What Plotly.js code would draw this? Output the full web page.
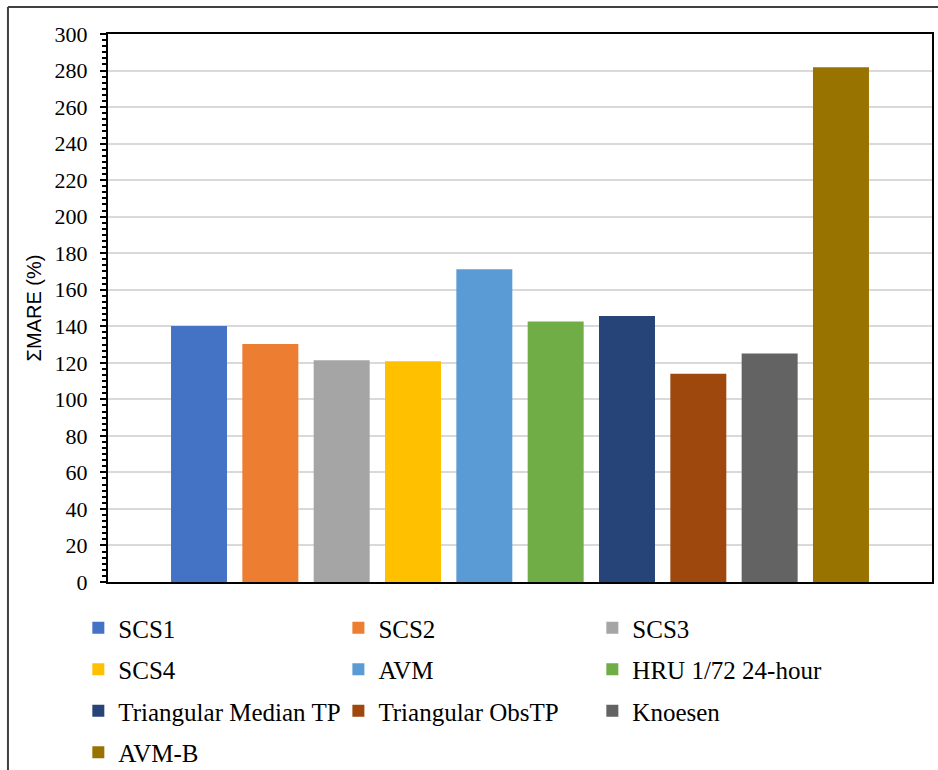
<!DOCTYPE html>
<html>
<head>
<meta charset="utf-8">
<script src="https://cdn.plot.ly/plotly-3.0.1.min.js"></script>
<style>html,body{margin:0;padding:0;background:#fff;}#chart{width:938px;height:770px;}</style>
</head>
<body>
<div id="chart"></div>
<script>
// Data
const categories = ["SCS1", "SCS2", "SCS3", "SCS4", "AVM", "HRU 1/72 24-hour",
  "Triangular Median TP", "Triangular ObsTP", "Knoesen", "AVM-B"];
const sumMARE = [140.1, 130.3, 121.4, 120.9, 171.2, 142.6, 145.6, 114.0, 125.1, 281.8];
const yTickValues = [0, 20, 40, 60, 80, 100, 120, 140, 160, 180, 200, 220, 240, 260, 280, 300];

// Styles
const colors = ["#4472C4", "#ED7D31", "#A5A5A5", "#FFC000", "#5B9BD5", "#70AD47",
  "#264478", "#9E480E", "#636363", "#997300"];
const legendIds = ["legend", "legend2", "legend3"];

const traces = categories.map((c, i) => ({
  type: "bar",
  name: c,
  x: [c],
  y: [sumMARE[i]],
  width: 0.785,
  marker: {color: colors[i], line: {width: 0}},
  legend: legendIds[i % 3],
  legendgroup: "g" + i,
  hoverinfo: "name+y"
}));

const legendFont = {family: "Liberation Serif, Times New Roman, serif", size: 25, color: "#000"};
function legendAt(x) {
  return {x: x, xanchor: "left", y: -0.042, yanchor: "top", orientation: "v",
    font: legendFont, tracegroupgap: 6, bgcolor: "rgba(0,0,0,0)", borderwidth: 0};
}

const layout = {
  width: 938, height: 770,
  margin: {l: 108, r: 6, t: 34, b: 188, autoexpand: false},
  paper_bgcolor: "#fff", plot_bgcolor: "#fff",
  barmode: "overlay",
  showlegend: true,
  legend: legendAt(-0.036),
  legend2: legendAt(0.2796),
  legend3: legendAt(0.5878),
  xaxis: {
    type: "category", categoryorder: "array", categoryarray: categories,
    range: [-1.276, 10.276], showticklabels: false, ticks: "", showgrid: false,
    zeroline: false, showline: true, linecolor: "#000", linewidth: 2, mirror: true, fixedrange: true
  },
  yaxis: {
    range: [0, 300], tickvals: yTickValues, ticktext: yTickValues.map(String),
    showline: true, linecolor: "#000", linewidth: 2, mirror: true,
    ticks: "outside", ticklen: 6, tickwidth: 2, tickcolor: "#000",
    ticklabelstandoff: 8,
    minor: {dtick: 20 / 6, ticks: "outside", ticklen: 4, tickwidth: 1.5, tickcolor: "#000", showgrid: false},
    showgrid: true, gridcolor: "#d9d9d9", gridwidth: 1.5, zeroline: false,
    tickfont: {family: "Liberation Serif, Times New Roman, serif", size: 22, color: "#000"},
    title: {text: "ΣMARE (%)", font: {family: "Liberation Sans, Arial, sans-serif", size: 20, color: "#000"}, standoff: 8},
    automargin: false, fixedrange: true
  },
  shapes: [
    {type: "line", xref: "paper", yref: "paper", x0: -0.1214, x1: 1.01, y0: 1.0493, y1: 1.0493,
      line: {color: "#404040", width: 2}},
    {type: "line", xref: "paper", yref: "paper", x0: -0.1214, x1: -0.1214, y0: 1.0493, y1: -0.36,
      line: {color: "#404040", width: 2}}
  ]
};

Plotly.newPlot("chart", traces, layout, {displayModeBar: false, staticPlot: false});
</script>
</body>
</html>
